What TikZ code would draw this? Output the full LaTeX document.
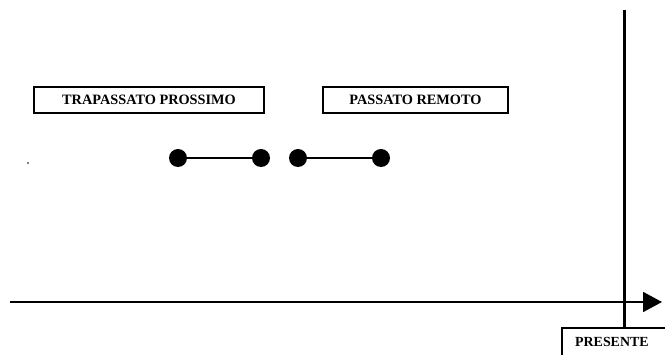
\documentclass[tikz,border=0pt]{standalone}
\usepackage{fontspec}
\setmainfont{Liberation Serif}
\usetikzlibrary{arrows.meta}
\begin{document}
\begin{tikzpicture}[x=1pt,y=-1pt,
  label box/.style={draw,line width=1.6pt,inner sep=0pt,font=\fontsize{14.3}{14.3}\selectfont\bfseries},
  dotnode/.style={circle,fill=black,inner sep=0pt,minimum size=18pt},
  seg/.style={line width=1.6pt}]
\useasboundingbox (0,0) rectangle (665,355);
% boxes
\node[label box,minimum width=230pt,minimum height=26pt] (tp) at (149,100) {TRAPASSATO PROSSIMO};
\node[label box,minimum width=185pt,minimum height=26pt] (pr) at (415.5,100) {PASSATO REMOTO};
% dots
\node[dotnode] (a1) at (178,158) {};
\node[dotnode] (a2) at (261,158) {};
\node[dotnode] (b1) at (298,158) {};
\node[dotnode] (b2) at (381,158) {};
\draw[seg] (a1) -- (a2);
\draw[seg] (b1) -- (b2);
\node[circle,fill=black,inner sep=0pt,minimum size=1.6pt] (pt) at (28,163) {};
% axis
\coordinate (ax0) at (10,302);
\coordinate (ax1) at (662,302);
\draw[line width=1.8pt,-{Triangle[length=19pt,width=20pt]}] (ax0) -- (ax1);
% present
\coordinate (v0) at (624,10);
\coordinate (v1) at (624,328);
\draw[line width=3pt] (v0) -- (v1);
\coordinate (p0) at (562,356);
\coordinate (p1) at (562,328);
\coordinate (p2) at (666,328);
\draw[line width=1.6pt] (p0) -- (p1) -- (p2);
\node[font=\fontsize{13.9}{13.9}\selectfont\bfseries,anchor=west,inner sep=0pt] (pres) at (575,342) {PRESENTE};
\end{tikzpicture}
\end{document}
